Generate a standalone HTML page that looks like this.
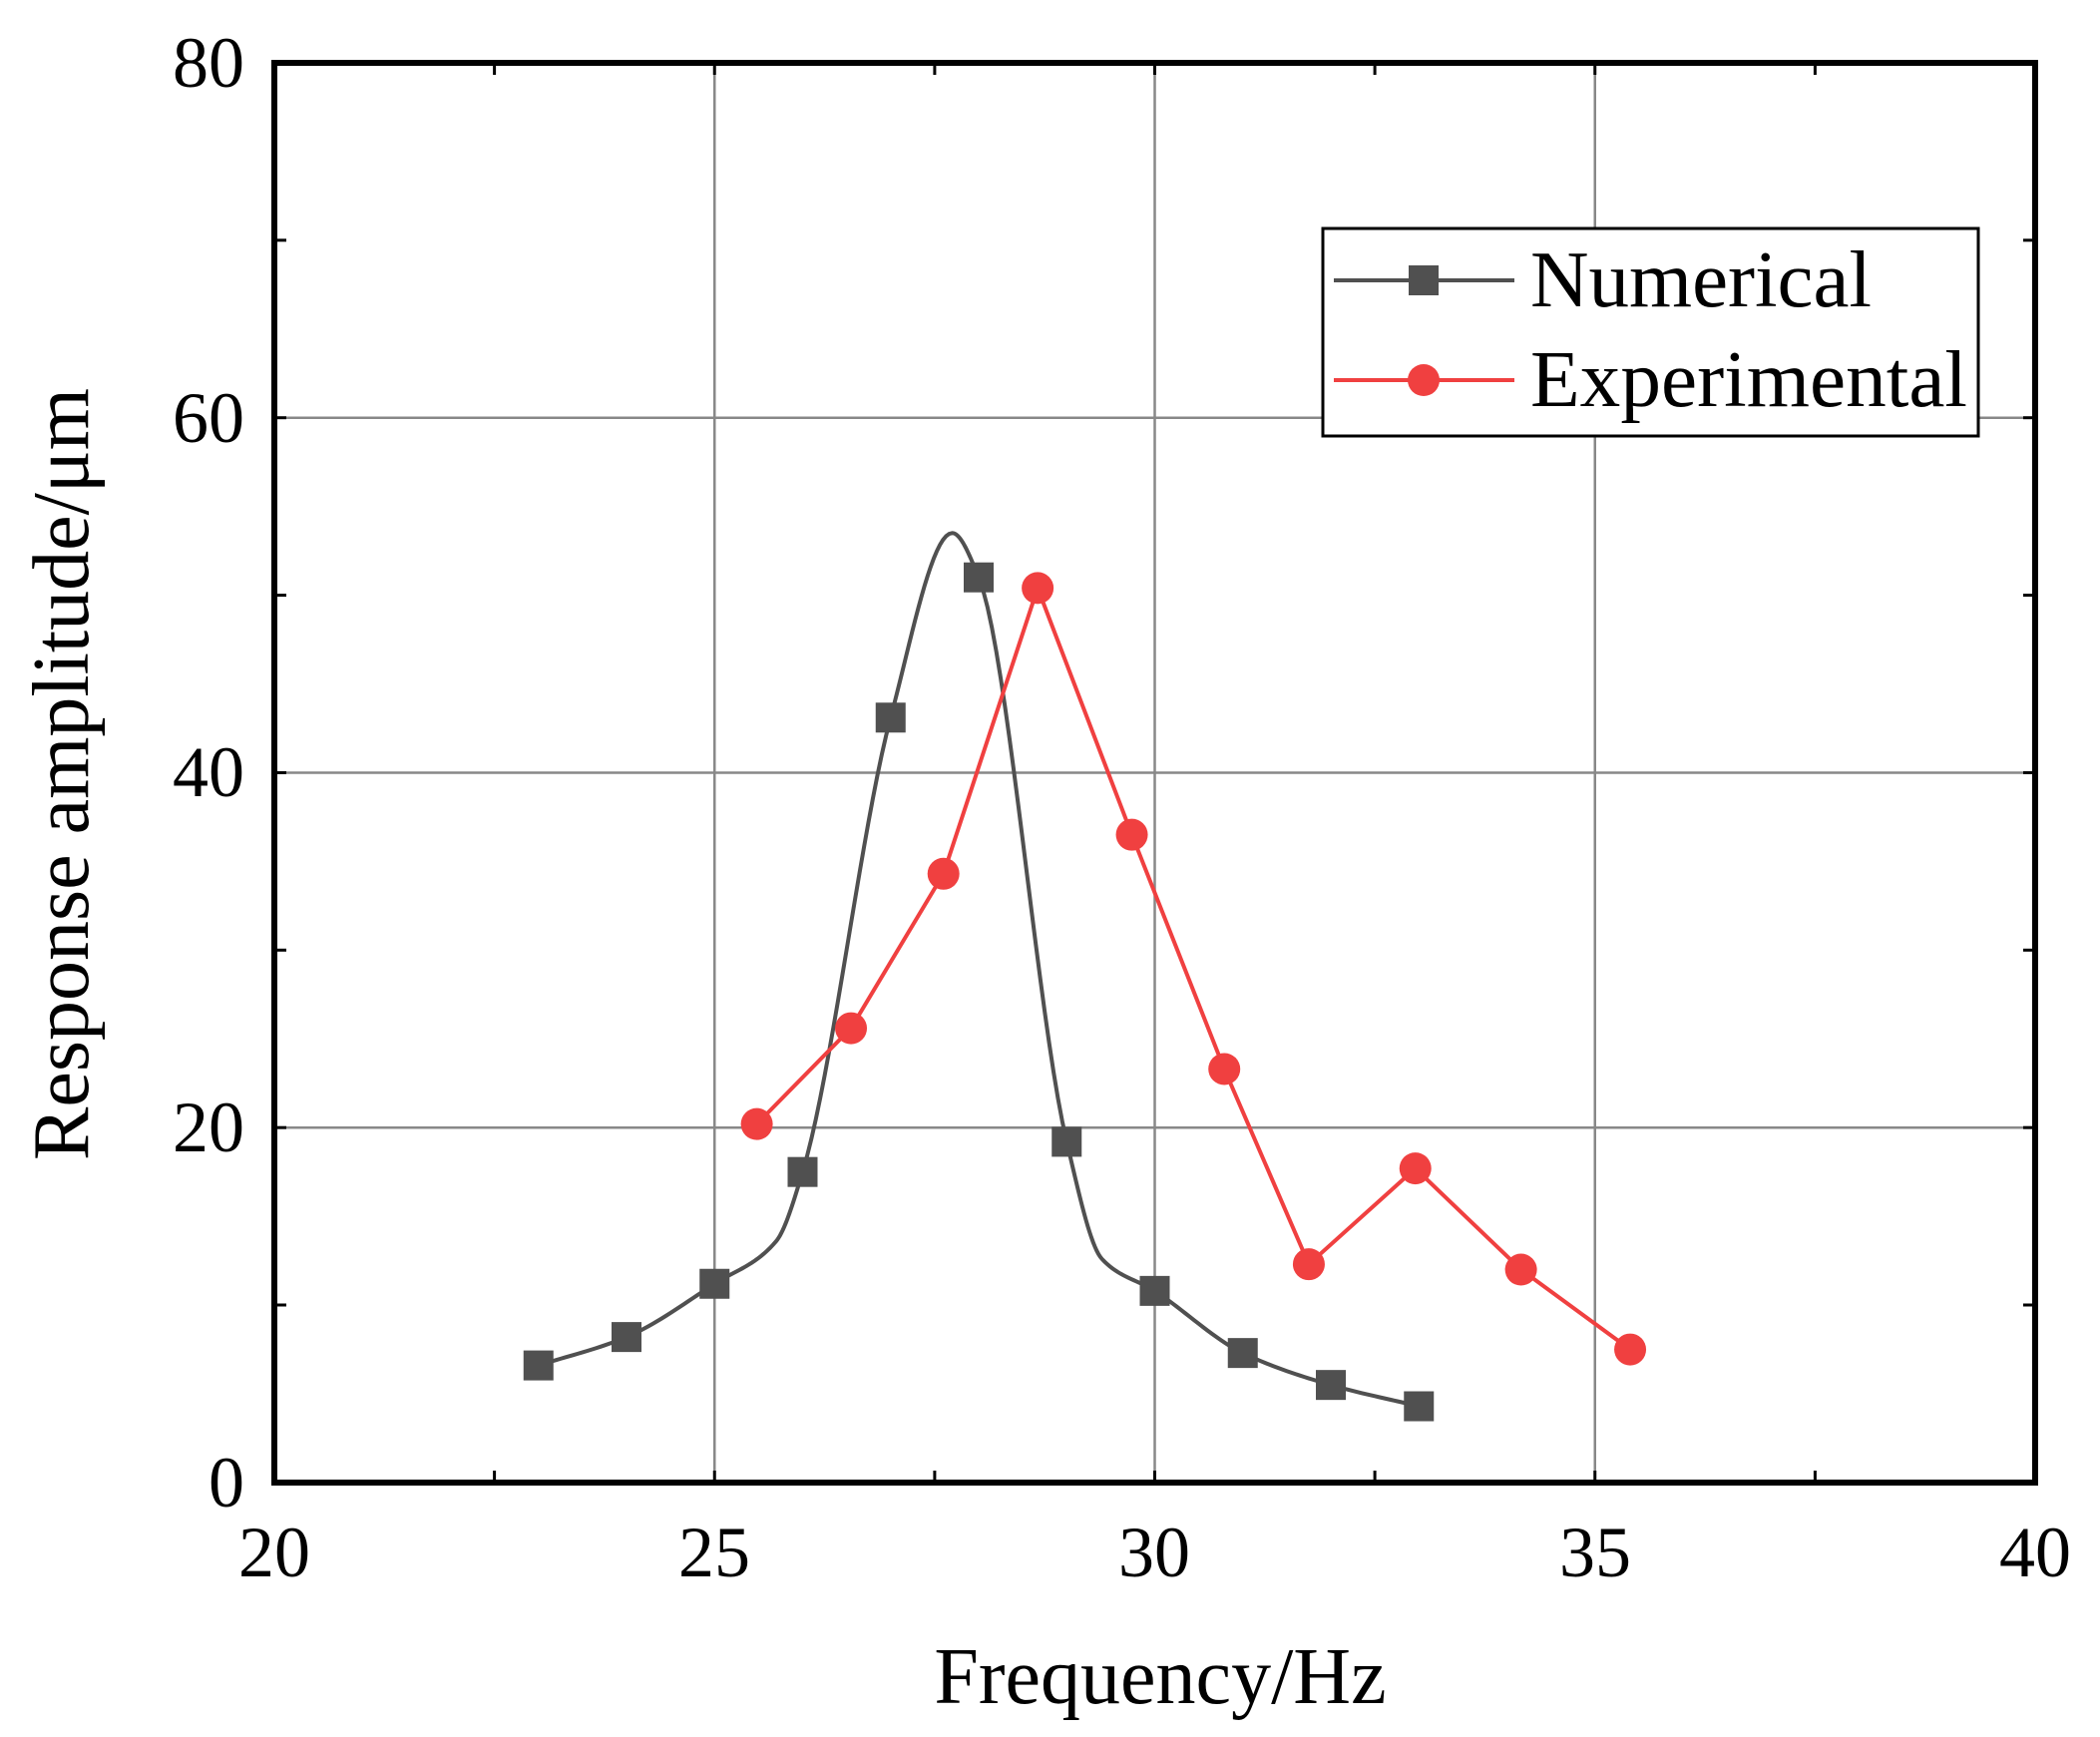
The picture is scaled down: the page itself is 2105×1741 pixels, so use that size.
<!DOCTYPE html>
<html><head><meta charset="utf-8"><style>
html,body{margin:0;padding:0;background:#fff;}
svg{display:block;}
text{font-family:"Liberation Serif","Times New Roman",serif;fill:#000;}
</style></head><body>
<svg id="s" width="2105" height="1741" viewBox="0 0 2105 1741" xmlns="http://www.w3.org/2000/svg">
<g stroke="#888" stroke-width="2.5">
<line x1="716.25" y1="63" x2="716.25" y2="1486"/>
<line x1="1157.5" y1="63" x2="1157.5" y2="1486"/>
<line x1="1598.75" y1="63" x2="1598.75" y2="1486"/>
<line x1="275" y1="1130.2" x2="2040" y2="1130.2"/>
<line x1="275" y1="774.5" x2="2040" y2="774.5"/>
<line x1="275" y1="418.7" x2="2040" y2="418.7"/>
</g>
<g stroke="#000" stroke-width="3">
<line x1="495.6" y1="1486" x2="495.6" y2="1474"/><line x1="936.9" y1="1486" x2="936.9" y2="1474"/><line x1="1378.1" y1="1486" x2="1378.1" y2="1474"/><line x1="1819.4" y1="1486" x2="1819.4" y2="1474"/>
<line x1="716.25" y1="1486" x2="716.25" y2="1474"/><line x1="1157.5" y1="1486" x2="1157.5" y2="1474"/><line x1="1598.75" y1="1486" x2="1598.75" y2="1474"/>
<line x1="495.6" y1="63" x2="495.6" y2="75"/><line x1="936.9" y1="63" x2="936.9" y2="75"/><line x1="1378.1" y1="63" x2="1378.1" y2="75"/><line x1="1819.4" y1="63" x2="1819.4" y2="75"/>
<line x1="716.25" y1="63" x2="716.25" y2="75"/><line x1="1157.5" y1="63" x2="1157.5" y2="75"/><line x1="1598.75" y1="63" x2="1598.75" y2="75"/>
<line x1="275" y1="1308" x2="287" y2="1308"/><line x1="275" y1="952.3" x2="287" y2="952.3"/><line x1="275" y1="596.6" x2="287" y2="596.6"/><line x1="275" y1="240.8" x2="287" y2="240.8"/>
<line x1="275" y1="1130.2" x2="287" y2="1130.2"/><line x1="275" y1="774.5" x2="287" y2="774.5"/><line x1="275" y1="418.7" x2="287" y2="418.7"/>
<line x1="2040" y1="1308" x2="2028" y2="1308"/><line x1="2040" y1="952.3" x2="2028" y2="952.3"/><line x1="2040" y1="596.6" x2="2028" y2="596.6"/><line x1="2040" y1="240.8" x2="2028" y2="240.8"/>
<line x1="2040" y1="1130.2" x2="2028" y2="1130.2"/><line x1="2040" y1="774.5" x2="2028" y2="774.5"/><line x1="2040" y1="418.7" x2="2028" y2="418.7"/>
</g>
<rect x="275" y="63" width="1765" height="1423" fill="none" stroke="#000" stroke-width="6"/>
<g font-size="72" text-anchor="middle">
<text x="275" y="1580">20</text><text x="716" y="1580">25</text><text x="1157" y="1580">30</text><text x="1599" y="1580">35</text><text x="2040" y="1580">40</text>
</g>
<g font-size="72" text-anchor="end">
<text x="245" y="1510">0</text><text x="245" y="1154">20</text><text x="245" y="798">40</text><text x="245" y="443">60</text><text x="245" y="87">80</text>
</g>
<text x="1163" y="1707" font-size="80" text-anchor="middle">Frequency/Hz</text>
<text transform="translate(88,776) rotate(-90)" font-size="80" text-anchor="middle">Response amplitude/μm</text>
<path id="num" fill="none" stroke="#505050" stroke-width="4"/>
<g id="nm" fill="#505050"></g>
<polyline id="exp" fill="none" stroke="#f04040" stroke-width="4"/>
<g id="em" fill="#f04040"></g>
<rect x="1326" y="229" width="657" height="208" fill="#fff" stroke="#000" stroke-width="3"/>
<line x1="1337" y1="281" x2="1518" y2="281" stroke="#505050" stroke-width="4"/>
<rect x="1412" y="266" width="30" height="30" fill="#505050"/>
<line x1="1337" y1="381" x2="1518" y2="381" stroke="#f04040" stroke-width="4"/>
<circle cx="1427" cy="381" r="16" fill="#f04040"/>
<text x="1534" y="307" font-size="80" textLength="342" lengthAdjust="spacingAndGlyphs">Numerical</text>
<text x="1534" y="407" font-size="80" textLength="438" lengthAdjust="spacingAndGlyphs">Experimental</text>
</svg>
<script>
var X=function(f){return 275+(f-20)*88.25},Y=function(v){return 1486-v*17.79};
var num=[[23,6.6],[24,8.2],[25,11.2],[26,17.5],[27,43.1],[28,51.0],[29,19.2],[30,10.8],[31,7.3],[32,5.5],[33,4.3]];
var c=[[23,6.6],[24,8.2],[25,11.2],[25.7,13.6],[26,17.5],[27,43.1],[27.7,53.5],[28,51.0],[29,19.2],[29.4,12.6],[30,10.8],[31,7.3],[32,5.5],[33,4.3]];
var n=c.length,xs=c.map(function(p){return p[0]}),ys=c.map(function(p){return p[1]});
var h=[],dl=[],m=[];
for(var i=0;i<n-1;i++){h[i]=xs[i+1]-xs[i];dl[i]=(ys[i+1]-ys[i])/h[i];}
m[0]=dl[0];m[n-1]=dl[n-2];
for(i=1;i<n-1;i++){if(dl[i-1]*dl[i]<=0)m[i]=0;else{var w1=2*h[i]+h[i-1],w2=h[i]+2*h[i-1];m[i]=(w1+w2)/(w1/dl[i-1]+w2/dl[i]);}}
var d="M"+X(xs[0])+","+Y(ys[0]);
for(i=0;i<n-1;i++){for(var k=1;k<=20;k++){var t=k/20,hh=h[i],t2=t*t,t3=t2*t;
var y=(2*t3-3*t2+1)*ys[i]+(t3-2*t2+t)*hh*m[i]+(-2*t3+3*t2)*ys[i+1]+(t3-t2)*hh*m[i+1];
d+=" L"+X(xs[i]+t*hh).toFixed(2)+","+Y(y).toFixed(2);}}
document.getElementById("num").setAttribute("d",d);
var ns="http://www.w3.org/2000/svg",g=document.getElementById("nm");
num.forEach(function(p){var r=document.createElementNS(ns,"rect");r.setAttribute("x",X(p[0])-15);r.setAttribute("y",Y(p[1])-15);r.setAttribute("width",30);r.setAttribute("height",30);g.appendChild(r);});
var ex=[[25.48,20.2],[26.55,25.6],[27.6,34.3],[28.67,50.4],[29.74,36.5],[30.79,23.3],[31.75,12.3],[32.96,17.7],[34.16,12.0],[35.4,7.5]];
document.getElementById("exp").setAttribute("points",ex.map(function(p){return X(p[0])+","+Y(p[1])}).join(" "));
var e=document.getElementById("em");
ex.forEach(function(p){var q=document.createElementNS(ns,"circle");q.setAttribute("cx",X(p[0]));q.setAttribute("cy",Y(p[1]));q.setAttribute("r",16);e.appendChild(q);});
</script>
</body></html>
